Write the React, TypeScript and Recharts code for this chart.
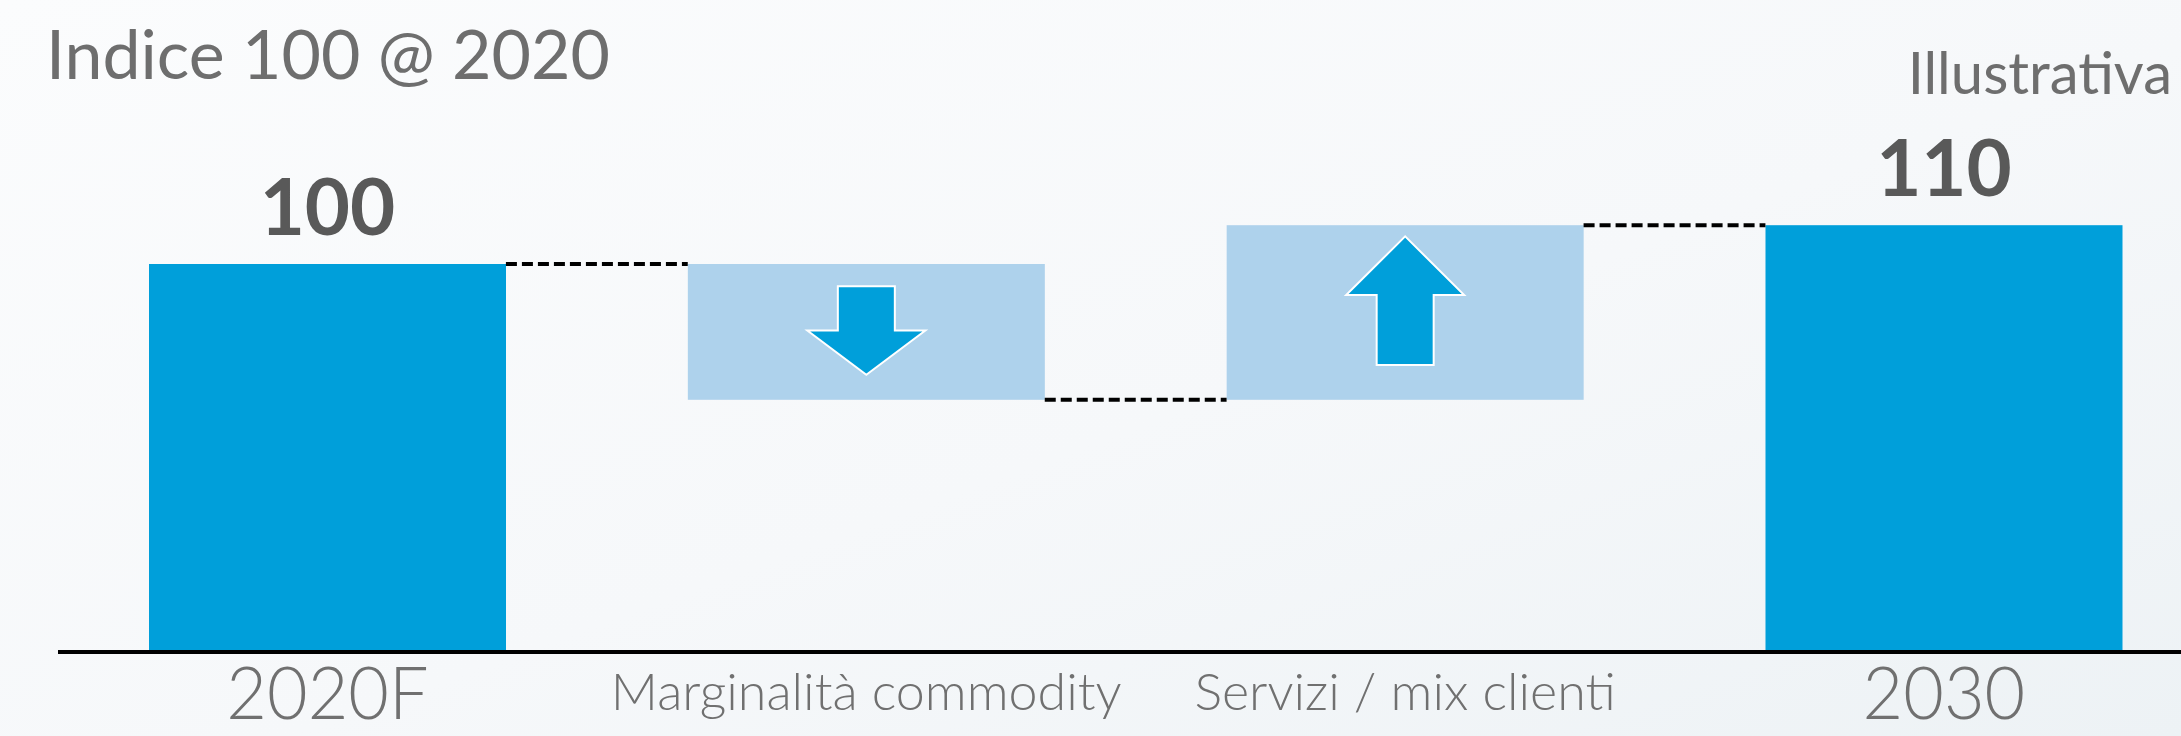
import React from 'react';
import { BarChart, Bar, XAxis, YAxis, Cell, LabelList, ReferenceLine } from 'recharts';

const categories = ['2020F', 'Marginalità commodity', 'Servizi / mix clienti', '2030'];
const totals = [100, null, null, 110];
const deltas = [null, -35, 45, null];

const W = 2181;
const H = 736;
const MARGIN = { top: 70, right: 0, left: 58, bottom: 0 };
const X_DOMAIN: [number, number] = [-0.5, 3.44];
const BAR_SIZE = 357;

const TOTAL_COLOR = '#009FDA';
const DELTA_COLOR = '#AED2EC';

// waterfall rows: invisible base + visible part
const levels: number[] = [];
let running = 0;
const data = categories.map((name, i) => {
  const t = totals[i];
  const d = deltas[i];
  let base = 0;
  let value = 0;
  if (t != null) {
    value = t;
    running = t;
  } else if (d != null) {
    base = d < 0 ? running + d : running;
    value = Math.abs(d);
    running += d;
  }
  levels.push(running);
  return { idx: i, name, base, value, total: t, delta: d };
});

const pxPerUnit = (W - MARGIN.left - MARGIN.right) / (X_DOMAIN[1] - X_DOMAIN[0]);
const halfBar = BAR_SIZE / 2 / pxPerUnit;

const WaterfallBar = (props: any) => {
  const { x, y, width, height, payload } = props;
  const cx = x + width / 2;
  const headW = 118;
  const shaftW = 57;
  let arrow = null;
  if (payload.delta != null && payload.delta < 0) {
    const top = y + 0.163 * height;
    const neck = y + 0.49 * height;
    const tip = y + 0.815 * height;
    arrow = (
      <polygon
        points={`${cx - shaftW / 2},${top} ${cx + shaftW / 2},${top} ${cx + shaftW / 2},${neck} ${cx + headW / 2},${neck} ${cx},${tip} ${cx - headW / 2},${neck} ${cx - shaftW / 2},${neck}`}
        fill={TOTAL_COLOR}
        stroke="#fff"
        strokeWidth={2}
      />
    );
  } else if (payload.delta != null && payload.delta > 0) {
    const tip = y + 0.064 * height;
    const neck = y + 0.4 * height;
    const bottom = y + 0.8 * height;
    arrow = (
      <polygon
        points={`${cx},${tip} ${cx + headW / 2},${neck} ${cx + shaftW / 2},${neck} ${cx + shaftW / 2},${bottom} ${cx - shaftW / 2},${bottom} ${cx - shaftW / 2},${neck} ${cx - headW / 2},${neck}`}
        fill={TOTAL_COLOR}
        stroke="#fff"
        strokeWidth={2}
      />
    );
  }
  return (
    <g>
      <rect x={x} y={y} width={width} height={height} fill={props.fill} />
      {arrow}
    </g>
  );
};

const TotalLabel = (props: any) => {
  const { x, y, width, index } = props;
  if (totals[index] == null) return null;
  return (
    <text
      x={x + width / 2}
      y={y - 29}
      textAnchor="middle"
      fontFamily="Lato, sans-serif"
      fontWeight={700}
      fontSize={78}
      fill="#595959"
    >
      {totals[index]}
    </text>
  );
};

const CategoryTick = (props: any) => {
  const { x, y, payload } = props;
  const i = payload.value;
  if (totals[i] != null) {
    // big year labels, slightly condensed
    return (
      <text
        transform={`translate(${x}, ${y + 67}) scale(0.96, 1)`}
        textAnchor="middle"
        fontFamily="Lato, sans-serif"
        fontWeight={300}
        fontSize={73}
        fill="#707070"
      >
        {categories[i]}
      </text>
    );
  }
  return (
    <text
      x={x}
      y={y + 58}
      textAnchor="middle"
      fontFamily="Lato, sans-serif"
      fontWeight={300}
      fontSize={52}
      fill="#707070"
    >
      {categories[i]}
    </text>
  );
};

export default function App() {
  return (
    <div
      style={{
        position: 'absolute',
        left: 0,
        top: 0,
        width: W,
        height: H,
        background: 'linear-gradient(160deg, #FBFCFD 0%, #F6F8FA 55%, #EDF2F5 100%)',
      }}
    >
      <svg width={W} height={H} style={{ position: 'absolute', left: 0, top: 0 }}>
        <text x={46} y={79} fontFamily="Lato, sans-serif" fontSize={68} fill="#6E6E6E">
          Indice 100 @ 2020
        </text>
        <text x={2172} y={94} textAnchor="end" fontFamily="Lato, sans-serif" fontSize={58} fill="#6E6E6E">
          Illustrativa
        </text>
      </svg>
      <div style={{ position: 'absolute', left: 0, top: 0 }}>
        <BarChart width={W} height={H} data={data} margin={MARGIN}>
          <XAxis
            dataKey="idx"
            type="number"
            domain={X_DOMAIN}
            allowDataOverflow
            ticks={[0, 1, 2, 3]}
            interval={0}
            height={84}
            tickLine={false}
            tickSize={0}
            tickMargin={0}
            axisLine={{ stroke: '#000', strokeWidth: 4 }}
            tick={<CategoryTick />}
          />
          <YAxis hide domain={[0, 150]} allowDataOverflow />
          <Bar dataKey="base" stackId="w" fill="transparent" barSize={BAR_SIZE} isAnimationActive={false} />
          <Bar dataKey="value" stackId="w" barSize={BAR_SIZE} shape={<WaterfallBar />} isAnimationActive={false}>
            {data.map((d, i) => (
              <Cell key={i} fill={d.total != null ? TOTAL_COLOR : DELTA_COLOR} />
            ))}
            <LabelList dataKey="value" content={<TotalLabel />} />
          </Bar>
          {levels.slice(0, -1).map((lv, i) => (
            <ReferenceLine
              key={i}
              segment={[
                { x: i + halfBar, y: lv },
                { x: i + 1 - halfBar, y: lv },
              ]}
              stroke="#000"
              strokeWidth={4}
              strokeDasharray="11 5"
            />
          ))}
        </BarChart>
      </div>
    </div>
  );
}
